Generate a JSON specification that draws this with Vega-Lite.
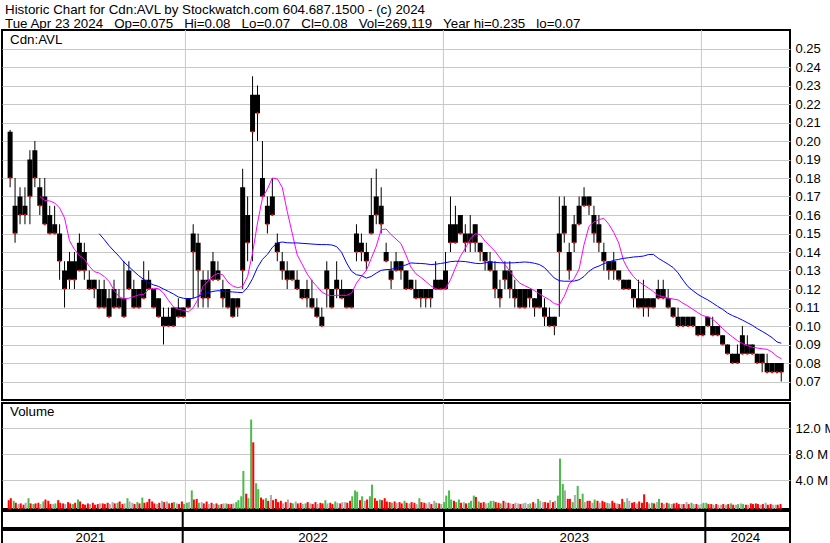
{
"$schema":"https://vega.github.io/schema/vega-lite/v6.json",
"padding":{"left":1,"top":3,"right":0,"bottom":0},
"background":"white",
"spacing":-1,
"title":{"text":["Historic Chart for Cdn:AVL by Stockwatch.com 604.687.1500 - (c) 2024","Tue Apr 23 2024\u00a0\u00a0 Op=0.075\u00a0\u00a0 Hi=0.08\u00a0\u00a0 Lo=0.07\u00a0\u00a0 Cl=0.08\u00a0\u00a0 Vol=269,119\u00a0\u00a0 Year hi=0.235\u00a0\u00a0 lo=0.07"],"anchor":"start","fontSize":13.33,"lineHeight":13.5,"offset":-1.5,"font":"Liberation Sans","fontWeight":"normal","color":"#000","dx":4},
"config":{
"view":{"stroke":"#000","strokeWidth":2},
"font":"Liberation Sans",
"axis":{"labelFont":"Liberation Sans","labelFontSize":13,"labelColor":"#000","gridColor":"#c8c8c8","gridWidth":1,"domain":false,"ticks":false,"title":null,"minExtent":0,"labelOverlap":false},
"title":{"font":"Liberation Sans","fontWeight":"normal","color":"#000"}
},
"datasets":{
"p":[
{"d":"2021-04-28","h":0.206,"l":0.175,"t":0.205,"b":0.18},
{"d":"2021-05-05","h":0.18,"l":0.145,"t":0.165,"b":0.15},
{"d":"2021-05-12","h":0.175,"l":0.155,"t":0.17,"b":0.16},
{"d":"2021-05-19","h":0.175,"l":0.155,"t":0.165,"b":0.16},
{"d":"2021-05-26","h":0.195,"l":0.155,"t":0.19,"b":0.17},
{"d":"2021-06-02","h":0.2,"l":0.175,"t":0.195,"b":0.18},
{"d":"2021-06-09","h":0.18,"l":0.16,"t":0.175,"b":0.165,"m":0.170},
{"d":"2021-06-16","h":0.18,"l":0.155,"t":0.17,"b":0.155,"m":0.1679},
{"d":"2021-06-23","h":0.165,"l":0.15,"t":0.16,"b":0.15,"m":0.1676},
{"d":"2021-06-30","h":0.165,"l":0.15,"t":0.155,"b":0.15,"m":0.1665},
{"d":"2021-07-07","h":0.155,"l":0.125,"t":0.15,"b":0.135,"m":0.1638},
{"d":"2021-07-14","h":0.135,"l":0.11,"t":0.13,"b":0.12,"m":0.1584},
{"d":"2021-07-21","h":0.14,"l":0.12,"t":0.135,"b":0.125,"m":0.1461},
{"d":"2021-07-28","h":0.14,"l":0.12,"t":0.135,"b":0.125,"m":0.1414},
{"d":"2021-08-04","h":0.15,"l":0.13,"t":0.145,"b":0.13,"m":0.1382},
{"d":"2021-08-11","h":0.145,"l":0.125,"t":0.14,"b":0.13,"m":0.136},
{"d":"2021-08-18","h":0.13,"l":0.12,"t":0.125,"b":0.12,"m":0.1323},
{"d":"2021-08-25","h":0.125,"l":0.115,"t":0.125,"b":0.12,"m":0.1294},
{"d":"2021-09-01","h":0.125,"l":0.11,"t":0.12,"b":0.11,"m":0.1286,"n":0.1499},
{"d":"2021-09-08","h":0.125,"l":0.11,"t":0.12,"b":0.11,"m":0.1268,"n":0.1468},
{"d":"2021-09-15","h":0.12,"l":0.105,"t":0.115,"b":0.105,"m":0.1241,"n":0.1434},
{"d":"2021-09-22","h":0.125,"l":0.11,"t":0.12,"b":0.11,"m":0.1193,"n":0.1405},
{"d":"2021-09-29","h":0.12,"l":0.11,"t":0.115,"b":0.11,"m":0.1159,"n":0.1377},
{"d":"2021-10-06","h":0.135,"l":0.105,"t":0.115,"b":0.105,"m":0.1146,"n":0.1346},
{"d":"2021-10-13","h":0.135,"l":0.12,"t":0.13,"b":0.12,"m":0.115,"n":0.1321},
{"d":"2021-10-20","h":0.125,"l":0.11,"t":0.12,"b":0.11,"m":0.1159,"n":0.1296},
{"d":"2021-10-27","h":0.12,"l":0.11,"t":0.12,"b":0.11,"m":0.1168,"n":0.1272},
{"d":"2021-11-03","h":0.135,"l":0.115,"t":0.125,"b":0.115,"m":0.117,"n":0.1252},
{"d":"2021-11-10","h":0.13,"l":0.12,"t":0.125,"b":0.12,"m":0.1198,"n":0.1234},
{"d":"2021-11-17","h":0.12,"l":0.11,"t":0.12,"b":0.11,"m":0.1204,"n":0.1222},
{"d":"2021-11-24","h":0.115,"l":0.105,"t":0.115,"b":0.105,"m":0.1202,"n":0.1214},
{"d":"2021-12-01","h":0.11,"l":0.09,"t":0.105,"b":0.1,"m":0.1178,"n":0.12},
{"d":"2021-12-08","h":0.11,"l":0.1,"t":0.105,"b":0.1,"m":0.1139,"n":0.1187},
{"d":"2021-12-15","h":0.11,"l":0.1,"t":0.11,"b":0.1,"m":0.1104,"n":0.1173},
{"d":"2021-12-22","h":0.115,"l":0.105,"t":0.11,"b":0.105,"m":0.109,"n":0.1157},
{"d":"2021-12-29","h":0.11,"l":0.105,"t":0.11,"b":0.105,"m":0.1085,"n":0.115},
{"d":"2022-01-05","h":0.115,"l":0.11,"t":0.115,"b":0.11,"m":0.1076,"n":0.1146},
{"d":"2022-01-12","h":0.155,"l":0.115,"t":0.15,"b":0.14,"m":0.1099,"n":0.115},
{"d":"2022-01-19","h":0.15,"l":0.11,"t":0.145,"b":0.13,"m":0.1146,"n":0.1159},
{"d":"2022-01-26","h":0.13,"l":0.11,"t":0.125,"b":0.115,"m":0.1214,"n":0.1173},
{"d":"2022-02-02","h":0.13,"l":0.11,"t":0.125,"b":0.115,"m":0.1243,"n":0.118},
{"d":"2022-02-09","h":0.14,"l":0.125,"t":0.135,"b":0.125,"m":0.127,"n":0.1187},
{"d":"2022-02-16","h":0.135,"l":0.125,"t":0.13,"b":0.125,"m":0.1285,"n":0.1191},
{"d":"2022-02-23","h":0.125,"l":0.11,"t":0.12,"b":0.115,"m":0.1276,"n":0.1189},
{"d":"2022-03-02","h":0.12,"l":0.11,"t":0.12,"b":0.11,"m":0.1238,"n":0.1186},
{"d":"2022-03-09","h":0.115,"l":0.105,"t":0.115,"b":0.105,"m":0.1216,"n":0.1184},
{"d":"2022-03-16","h":0.115,"l":0.105,"t":0.115,"b":0.11,"m":0.1207,"n":0.1182},
{"d":"2022-03-23","h":0.185,"l":0.12,"t":0.175,"b":0.13,"m":0.1214,"n":0.118},
{"d":"2022-03-30","h":0.17,"l":0.135,"t":0.16,"b":0.145,"m":0.1268,"n":0.1209},
{"d":"2022-04-06","h":0.235,"l":0.135,"t":0.225,"b":0.205,"m":0.1395,"n":0.1256},
{"d":"2022-04-13","h":0.23,"l":0.2,"t":0.225,"b":0.215,"m":0.1557,"n":0.1317},
{"d":"2022-04-20","h":0.2,"l":0.17,"t":0.18,"b":0.17,"m":0.1692,"n":0.136},
{"d":"2022-04-27","h":0.17,"l":0.15,"t":0.165,"b":0.155,"m":0.1741,"n":0.1387},
{"d":"2022-05-04","h":0.18,"l":0.16,"t":0.17,"b":0.16,"m":0.18,"n":0.1425},
{"d":"2022-05-11","h":0.15,"l":0.135,"t":0.145,"b":0.14,"m":0.1795,"n":0.1449},
{"d":"2022-05-18","h":0.14,"l":0.125,"t":0.135,"b":0.13,"m":0.175,"n":0.1454},
{"d":"2022-05-25","h":0.135,"l":0.12,"t":0.13,"b":0.125,"m":0.162,"n":0.145},
{"d":"2022-06-01","h":0.13,"l":0.125,"t":0.13,"b":0.125,"m":0.1503,"n":0.1449},
{"d":"2022-06-08","h":0.13,"l":0.12,"t":0.125,"b":0.12,"m":0.1386,"n":0.1449},
{"d":"2022-06-15","h":0.12,"l":0.115,"t":0.12,"b":0.115,"m":0.1335,"n":0.1447},
{"d":"2022-06-22","h":0.125,"l":0.11,"t":0.12,"b":0.115,"m":0.1283,"n":0.1445},
{"d":"2022-06-29","h":0.125,"l":0.11,"t":0.115,"b":0.11,"m":0.1245,"n":0.1443},
{"d":"2022-07-06","h":0.115,"l":0.105,"t":0.11,"b":0.105,"m":0.1214,"n":0.1441},
{"d":"2022-07-13","h":0.11,"l":0.1,"t":0.105,"b":0.1,"m":0.1184,"n":0.144},
{"d":"2022-07-20","h":0.135,"l":0.11,"t":0.13,"b":0.12,"m":0.1168,"n":0.144},
{"d":"2022-07-27","h":0.12,"l":0.11,"t":0.12,"b":0.11,"m":0.1164,"n":0.1438},
{"d":"2022-08-03","h":0.135,"l":0.115,"t":0.125,"b":0.12,"m":0.1166,"n":0.1429},
{"d":"2022-08-10","h":0.125,"l":0.115,"t":0.12,"b":0.115,"m":0.1166,"n":0.1398},
{"d":"2022-08-17","h":0.12,"l":0.11,"t":0.12,"b":0.11,"m":0.1166,"n":0.1341},
{"d":"2022-08-24","h":0.12,"l":0.11,"t":0.12,"b":0.11,"m":0.1177,"n":0.1296},
{"d":"2022-08-31","h":0.155,"l":0.135,"t":0.15,"b":0.14,"m":0.1232,"n":0.1277},
{"d":"2022-09-07","h":0.15,"l":0.135,"t":0.145,"b":0.14,"m":0.1268,"n":0.1272},
{"d":"2022-09-14","h":0.145,"l":0.13,"t":0.14,"b":0.135,"m":0.1301,"n":0.1259},
{"d":"2022-09-21","h":0.18,"l":0.15,"t":0.16,"b":0.15,"m":0.1366,"n":0.1268},
{"d":"2022-09-28","h":0.185,"l":0.155,"t":0.17,"b":0.16,"m":0.1431,"n":0.1286},
{"d":"2022-10-05","h":0.175,"l":0.15,"t":0.165,"b":0.155,"m":0.1521,"n":0.1301},
{"d":"2022-10-12","h":0.145,"l":0.135,"t":0.14,"b":0.135,"m":0.1524,"n":0.1305},
{"d":"2022-10-19","h":0.135,"l":0.12,"t":0.13,"b":0.125,"m":0.1494,"n":0.1306},
{"d":"2022-10-26","h":0.14,"l":0.13,"t":0.135,"b":0.13,"m":0.147,"n":0.1314},
{"d":"2022-11-02","h":0.135,"l":0.125,"t":0.135,"b":0.13,"m":0.1445,"n":0.1323},
{"d":"2022-11-09","h":0.13,"l":0.12,"t":0.13,"b":0.12,"m":0.1384,"n":0.133},
{"d":"2022-11-16","h":0.125,"l":0.12,"t":0.125,"b":0.12,"m":0.1319,"n":0.1341},
{"d":"2022-11-23","h":0.125,"l":0.115,"t":0.12,"b":0.115,"m":0.1283,"n":0.1339},
{"d":"2022-11-30","h":0.12,"l":0.11,"t":0.12,"b":0.115,"m":0.1263,"n":0.1338},
{"d":"2022-12-07","h":0.12,"l":0.11,"t":0.12,"b":0.115,"m":0.1241,"n":0.1336},
{"d":"2022-12-14","h":0.12,"l":0.11,"t":0.12,"b":0.115,"m":0.1218,"n":0.1332},
{"d":"2022-12-21","h":0.135,"l":0.12,"t":0.125,"b":0.12,"m":0.12,"n":0.1334},
{"d":"2022-12-28","h":0.125,"l":0.12,"t":0.125,"b":0.12,"m":0.1196,"n":0.1338},
{"d":"2023-01-04","h":0.14,"l":0.12,"t":0.13,"b":0.12,"m":0.1202,"n":0.1342},
{"d":"2023-01-11","h":0.17,"l":0.14,"t":0.155,"b":0.145,"m":0.125,"n":0.1348},
{"d":"2023-01-18","h":0.165,"l":0.145,"t":0.155,"b":0.145,"m":0.1314,"n":0.135},
{"d":"2023-01-25","h":0.16,"l":0.15,"t":0.16,"b":0.15,"m":0.1377,"n":0.135},
{"d":"2023-02-01","h":0.155,"l":0.14,"t":0.15,"b":0.145,"m":0.142,"n":0.1348},
{"d":"2023-02-08","h":0.16,"l":0.14,"t":0.15,"b":0.145,"m":0.147,"n":0.1344},
{"d":"2023-02-15","h":0.155,"l":0.14,"t":0.155,"b":0.145,"m":0.1499,"n":0.1339},
{"d":"2023-02-22","h":0.145,"l":0.135,"t":0.145,"b":0.14,"m":0.1494,"n":0.1337},
{"d":"2023-03-01","h":0.14,"l":0.13,"t":0.14,"b":0.135,"m":0.1458,"n":0.1341},
{"d":"2023-03-08","h":0.14,"l":0.13,"t":0.135,"b":0.13,"m":0.1431,"n":0.1346},
{"d":"2023-03-15","h":0.135,"l":0.115,"t":0.13,"b":0.12,"m":0.1404,"n":0.1344},
{"d":"2023-03-22","h":0.125,"l":0.11,"t":0.12,"b":0.115,"m":0.1368,"n":0.1342},
{"d":"2023-03-29","h":0.135,"l":0.12,"t":0.13,"b":0.125,"m":0.1332,"n":0.1341},
{"d":"2023-04-05","h":0.135,"l":0.115,"t":0.13,"b":0.12,"m":0.1296,"n":0.1341},
{"d":"2023-04-12","h":0.125,"l":0.11,"t":0.12,"b":0.115,"m":0.126,"n":0.1342},
{"d":"2023-04-19","h":0.12,"l":0.11,"t":0.12,"b":0.11,"m":0.1232,"n":0.1344},
{"d":"2023-04-26","h":0.12,"l":0.11,"t":0.12,"b":0.11,"m":0.1218,"n":0.1346},
{"d":"2023-05-03","h":0.12,"l":0.11,"t":0.12,"b":0.115,"m":0.1205,"n":0.1344},
{"d":"2023-05-10","h":0.115,"l":0.105,"t":0.115,"b":0.11,"m":0.1191,"n":0.1339},
{"d":"2023-05-17","h":0.12,"l":0.11,"t":0.12,"b":0.11,"m":0.1173,"n":0.1332},
{"d":"2023-05-24","h":0.115,"l":0.1,"t":0.11,"b":0.105,"m":0.1157,"n":0.1316},
{"d":"2023-05-31","h":0.11,"l":0.1,"t":0.105,"b":0.1,"m":0.1142,"n":0.1287},
{"d":"2023-06-07","h":0.105,"l":0.095,"t":0.105,"b":0.1,"m":0.1121,"n":0.1259},
{"d":"2023-06-14","h":0.17,"l":0.105,"t":0.15,"b":0.14,"m":0.1115,"n":0.1245},
{"d":"2023-06-21","h":0.17,"l":0.145,"t":0.165,"b":0.15,"m":0.116,"n":0.1242},
{"d":"2023-06-28","h":0.145,"l":0.125,"t":0.14,"b":0.13,"m":0.1227,"n":0.1242},
{"d":"2023-07-05","h":0.16,"l":0.14,"t":0.155,"b":0.145,"m":0.1256,"n":0.1243},
{"d":"2023-07-12","h":0.17,"l":0.155,"t":0.165,"b":0.155,"m":0.1308,"n":0.125},
{"d":"2023-07-19","h":0.175,"l":0.165,"t":0.17,"b":0.165,"m":0.144,"n":0.1268},
{"d":"2023-07-26","h":0.17,"l":0.16,"t":0.17,"b":0.165,"m":0.1539,"n":0.1296},
{"d":"2023-08-02","h":0.165,"l":0.145,"t":0.16,"b":0.15,"m":0.1562,"n":0.1314},
{"d":"2023-08-09","h":0.16,"l":0.14,"t":0.155,"b":0.145,"m":0.1575,"n":0.1324},
{"d":"2023-08-16","h":0.145,"l":0.13,"t":0.14,"b":0.135,"m":0.1582,"n":0.1337},
{"d":"2023-08-23","h":0.135,"l":0.125,"t":0.135,"b":0.13,"m":0.155,"n":0.1346},
{"d":"2023-08-30","h":0.14,"l":0.125,"t":0.135,"b":0.13,"m":0.1506,"n":0.1355},
{"d":"2023-09-06","h":0.13,"l":0.125,"t":0.13,"b":0.125,"m":0.1449,"n":0.136},
{"d":"2023-09-13","h":0.125,"l":0.12,"t":0.125,"b":0.12,"m":0.1353,"n":0.1366},
{"d":"2023-09-20","h":0.125,"l":0.12,"t":0.125,"b":0.12,"m":0.1303,"n":0.1369},
{"d":"2023-09-27","h":0.12,"l":0.11,"t":0.12,"b":0.115,"m":0.1267,"n":0.1373},
{"d":"2023-10-04","h":0.125,"l":0.11,"t":0.115,"b":0.11,"m":0.124,"n":0.1375},
{"d":"2023-10-11","h":0.125,"l":0.105,"t":0.115,"b":0.11,"m":0.1223,"n":0.1378},
{"d":"2023-10-18","h":0.115,"l":0.105,"t":0.115,"b":0.11,"m":0.1205,"n":0.1386},
{"d":"2023-10-25","h":0.115,"l":0.11,"t":0.115,"b":0.11,"m":0.1186,"n":0.1387},
{"d":"2023-11-01","h":0.125,"l":0.115,"t":0.12,"b":0.115,"m":0.1164,"n":0.1366},
{"d":"2023-11-08","h":0.125,"l":0.115,"t":0.12,"b":0.115,"m":0.1159,"n":0.135},
{"d":"2023-11-15","h":0.12,"l":0.11,"t":0.115,"b":0.11,"m":0.1151,"n":0.1334},
{"d":"2023-11-22","h":0.11,"l":0.105,"t":0.11,"b":0.105,"m":0.1146,"n":0.1316},
{"d":"2023-11-29","h":0.11,"l":0.1,"t":0.105,"b":0.1,"m":0.1141,"n":0.1287},
{"d":"2023-12-06","h":0.105,"l":0.1,"t":0.105,"b":0.1,"m":0.1123,"n":0.1248},
{"d":"2023-12-13","h":0.105,"l":0.1,"t":0.105,"b":0.1,"m":0.1108,"n":0.1213},
{"d":"2023-12-20","h":0.105,"l":0.1,"t":0.105,"b":0.1,"m":0.109,"n":0.1191},
{"d":"2023-12-27","h":0.1,"l":0.095,"t":0.1,"b":0.095,"m":0.1072,"n":0.1171},
{"d":"2024-01-03","h":0.1,"l":0.095,"t":0.1,"b":0.095,"m":0.1056,"n":0.1155},
{"d":"2024-01-10","h":0.105,"l":0.1,"t":0.105,"b":0.1,"m":0.105,"n":0.1141},
{"d":"2024-01-17","h":0.105,"l":0.095,"t":0.1,"b":0.095,"m":0.1036,"n":0.1124},
{"d":"2024-01-24","h":0.1,"l":0.095,"t":0.1,"b":0.095,"m":0.1013,"n":0.1106},
{"d":"2024-01-31","h":0.095,"l":0.09,"t":0.095,"b":0.09,"m":0.0986,"n":0.109},
{"d":"2024-02-07","h":0.09,"l":0.085,"t":0.09,"b":0.085,"m":0.0962,"n":0.107},
{"d":"2024-02-14","h":0.085,"l":0.08,"t":0.085,"b":0.08,"m":0.0941,"n":0.1056},
{"d":"2024-02-21","h":0.09,"l":0.08,"t":0.085,"b":0.08,"m":0.0921,"n":0.1045},
{"d":"2024-02-28","h":0.1,"l":0.085,"t":0.095,"b":0.085,"m":0.0905,"n":0.1032},
{"d":"2024-03-06","h":0.095,"l":0.085,"t":0.09,"b":0.085,"m":0.0894,"n":0.1018},
{"d":"2024-03-13","h":0.09,"l":0.085,"t":0.09,"b":0.085,"m":0.0885,"n":0.1004},
{"d":"2024-03-20","h":0.085,"l":0.08,"t":0.085,"b":0.08,"m":0.0881,"n":0.0986},
{"d":"2024-03-27","h":0.085,"l":0.075,"t":0.085,"b":0.08,"m":0.0877,"n":0.0971},
{"d":"2024-04-03","h":0.085,"l":0.075,"t":0.08,"b":0.075,"m":0.0874,"n":0.0955},
{"d":"2024-04-10","h":0.08,"l":0.075,"t":0.08,"b":0.075,"m":0.0859,"n":0.0937},
{"d":"2024-04-17","h":0.08,"l":0.075,"t":0.08,"b":0.075,"m":0.0836,"n":0.0914},
{"d":"2024-04-23","h":0.08,"l":0.07,"t":0.08,"b":0.075,"m":0.0823,"n":0.0907}
],
"v":[
{"d":"2021-04-26","v":0.9,"c":"r"},{"d":"2021-04-29","v":1.2,"c":"r"},
{"d":"2021-05-03","v":0.8,"c":"g"},{"d":"2021-05-06","v":0.5,"c":"r"},
{"d":"2021-05-10","v":0.3,"c":"n"},{"d":"2021-05-13","v":0.4,"c":"r"},
{"d":"2021-05-17","v":0.2,"c":"r"},{"d":"2021-05-20","v":0.5,"c":"n"},
{"d":"2021-05-24","v":1.2,"c":"g"},{"d":"2021-05-27","v":0.4,"c":"r"},
{"d":"2021-05-31","v":0.3,"c":"g"},{"d":"2021-06-03","v":0.4,"c":"r"},
{"d":"2021-06-07","v":0.5,"c":"r"},{"d":"2021-06-10","v":0.3,"c":"n"},
{"d":"2021-06-14","v":0.7,"c":"g"},{"d":"2021-06-17","v":1.0,"c":"r"},
{"d":"2021-06-21","v":0.8,"c":"r"},{"d":"2021-06-24","v":0.3,"c":"r"},
{"d":"2021-06-28","v":0.3,"c":"n"},{"d":"2021-07-01","v":0.4,"c":"g"},
{"d":"2021-07-05","v":0.9,"c":"r"},{"d":"2021-07-08","v":0.5,"c":"r"},
{"d":"2021-07-12","v":0.4,"c":"r"},{"d":"2021-07-15","v":0.3,"c":"n"},
{"d":"2021-07-19","v":0.6,"c":"r"},{"d":"2021-07-22","v":0.4,"c":"r"},
{"d":"2021-07-26","v":0.3,"c":"g"},{"d":"2021-07-29","v":0.5,"c":"r"},
{"d":"2021-08-02","v":1.0,"c":"g"},{"d":"2021-08-05","v":0.7,"c":"r"},
{"d":"2021-08-09","v":0.3,"c":"r"},{"d":"2021-08-12","v":0.2,"c":"r"},
{"d":"2021-08-16","v":0.4,"c":"r"},{"d":"2021-08-19","v":0.3,"c":"n"},
{"d":"2021-08-23","v":0.5,"c":"r"},{"d":"2021-08-26","v":0.2,"c":"r"},
{"d":"2021-08-30","v":0.3,"c":"r"},{"d":"2021-09-02","v":0.4,"c":"n"},
{"d":"2021-09-06","v":0.4,"c":"r"},{"d":"2021-09-09","v":0.3,"c":"r"},
{"d":"2021-09-13","v":0.5,"c":"r"},{"d":"2021-09-16","v":0.3,"c":"n"},
{"d":"2021-09-20","v":0.6,"c":"n"},{"d":"2021-09-23","v":0.4,"c":"r"},
{"d":"2021-09-27","v":0.5,"c":"g"},{"d":"2021-09-30","v":0.7,"c":"r"},
{"d":"2021-10-04","v":0.3,"c":"r"},{"d":"2021-10-07","v":0.4,"c":"n"},
{"d":"2021-10-11","v":1.2,"c":"g"},{"d":"2021-10-14","v":0.7,"c":"n"},
{"d":"2021-10-18","v":0.5,"c":"n"},{"d":"2021-10-21","v":0.3,"c":"r"},
{"d":"2021-10-25","v":0.6,"c":"g"},{"d":"2021-10-28","v":0.4,"c":"r"},
{"d":"2021-11-01","v":1.3,"c":"g"},{"d":"2021-11-04","v":0.5,"c":"r"},
{"d":"2021-11-08","v":0.6,"c":"r"},{"d":"2021-11-11","v":1.1,"c":"r"},
{"d":"2021-11-15","v":0.7,"c":"r"},{"d":"2021-11-18","v":0.4,"c":"r"},
{"d":"2021-11-22","v":0.3,"c":"n"},{"d":"2021-11-25","v":0.5,"c":"r"},
{"d":"2021-11-29","v":0.8,"c":"n"},{"d":"2021-12-02","v":0.6,"c":"r"},
{"d":"2021-12-06","v":0.7,"c":"n"},{"d":"2021-12-09","v":0.4,"c":"r"},
{"d":"2021-12-13","v":0.5,"c":"r"},{"d":"2021-12-16","v":0.6,"c":"g"},
{"d":"2021-12-20","v":0.4,"c":"n"},{"d":"2021-12-23","v":0.3,"c":"r"},
{"d":"2021-12-27","v":0.7,"c":"r"},{"d":"2021-12-30","v":0.3,"c":"g"},
{"d":"2022-01-03","v":0.5,"c":"g"},{"d":"2022-01-06","v":0.6,"c":"n"},
{"d":"2022-01-10","v":2.4,"c":"g"},{"d":"2022-01-13","v":1.0,"c":"r"},
{"d":"2022-01-17","v":1.1,"c":"r"},{"d":"2022-01-20","v":0.5,"c":"g"},
{"d":"2022-01-24","v":0.6,"c":"n"},{"d":"2022-01-27","v":0.4,"c":"r"},
{"d":"2022-01-31","v":0.7,"c":"r"},{"d":"2022-02-03","v":0.3,"c":"n"},
{"d":"2022-02-07","v":0.5,"c":"r"},{"d":"2022-02-10","v":0.3,"c":"n"},
{"d":"2022-02-14","v":0.4,"c":"r"},{"d":"2022-02-17","v":0.2,"c":"g"},
{"d":"2022-02-21","v":0.3,"c":"r"},{"d":"2022-02-24","v":0.4,"c":"n"},
{"d":"2022-02-28","v":0.4,"c":"g"},{"d":"2022-03-03","v":0.3,"c":"r"},
{"d":"2022-03-07","v":0.3,"c":"r"},{"d":"2022-03-10","v":0.4,"c":"n"},
{"d":"2022-03-14","v":0.6,"c":"g"},{"d":"2022-03-17","v":0.9,"c":"g"},
{"d":"2022-03-21","v":1.5,"c":"g"},{"d":"2022-03-24","v":5.4,"c":"g"},
{"d":"2022-03-28","v":1.9,"c":"r"},{"d":"2022-03-31","v":1.2,"c":"g"},
{"d":"2022-04-04","v":13.3,"c":"g"},{"d":"2022-04-07","v":9.8,"c":"r"},
{"d":"2022-04-11","v":3.5,"c":"g"},{"d":"2022-04-14","v":2.6,"c":"g"},
{"d":"2022-04-18","v":1.3,"c":"r"},{"d":"2022-04-21","v":1.0,"c":"r"},
{"d":"2022-04-25","v":1.2,"c":"g"},{"d":"2022-04-28","v":0.8,"c":"r"},
{"d":"2022-05-02","v":1.7,"c":"n"},{"d":"2022-05-05","v":0.9,"c":"r"},
{"d":"2022-05-09","v":1.1,"c":"r"},{"d":"2022-05-12","v":0.6,"c":"r"},
{"d":"2022-05-16","v":0.8,"c":"r"},{"d":"2022-05-19","v":0.4,"c":"n"},
{"d":"2022-05-23","v":0.6,"c":"r"},{"d":"2022-05-26","v":1.0,"c":"n"},
{"d":"2022-05-30","v":0.5,"c":"r"},{"d":"2022-06-02","v":0.4,"c":"g"},
{"d":"2022-06-06","v":0.7,"c":"n"},{"d":"2022-06-09","v":0.4,"c":"r"},
{"d":"2022-06-13","v":0.5,"c":"r"},{"d":"2022-06-16","v":0.3,"c":"n"},
{"d":"2022-06-20","v":0.4,"c":"g"},{"d":"2022-06-23","v":0.6,"c":"r"},
{"d":"2022-06-27","v":0.4,"c":"n"},{"d":"2022-06-30","v":0.3,"c":"r"},
{"d":"2022-07-04","v":0.6,"c":"r"},{"d":"2022-07-07","v":0.3,"c":"n"},
{"d":"2022-07-11","v":0.5,"c":"r"},{"d":"2022-07-14","v":0.4,"c":"r"},
{"d":"2022-07-18","v":0.9,"c":"g"},{"d":"2022-07-21","v":0.4,"c":"n"},
{"d":"2022-07-25","v":0.5,"c":"r"},{"d":"2022-07-28","v":0.3,"c":"r"},
{"d":"2022-08-01","v":0.7,"c":"g"},{"d":"2022-08-04","v":0.5,"c":"n"},
{"d":"2022-08-08","v":0.4,"c":"r"},{"d":"2022-08-11","v":0.6,"c":"n"},
{"d":"2022-08-15","v":0.6,"c":"n"},{"d":"2022-08-18","v":0.5,"c":"r"},
{"d":"2022-08-22","v":0.8,"c":"r"},{"d":"2022-08-25","v":1.5,"c":"g"},
{"d":"2022-08-29","v":2.4,"c":"g"},{"d":"2022-09-01","v":2.2,"c":"g"},
{"d":"2022-09-05","v":0.9,"c":"r"},{"d":"2022-09-08","v":1.5,"c":"g"},
{"d":"2022-09-12","v":0.8,"c":"n"},{"d":"2022-09-15","v":1.0,"c":"r"},
{"d":"2022-09-19","v":1.5,"c":"g"},{"d":"2022-09-22","v":3.3,"c":"g"},
{"d":"2022-09-26","v":1.2,"c":"r"},{"d":"2022-09-29","v":0.8,"c":"r"},
{"d":"2022-10-03","v":1.0,"c":"g"},{"d":"2022-10-06","v":0.9,"c":"r"},
{"d":"2022-10-10","v":1.2,"c":"r"},{"d":"2022-10-13","v":0.7,"c":"r"},
{"d":"2022-10-17","v":0.6,"c":"r"},{"d":"2022-10-20","v":0.5,"c":"g"},
{"d":"2022-10-24","v":0.7,"c":"r"},{"d":"2022-10-27","v":0.5,"c":"n"},
{"d":"2022-10-31","v":0.6,"c":"r"},{"d":"2022-11-03","v":0.4,"c":"r"},
{"d":"2022-11-07","v":0.8,"c":"g"},{"d":"2022-11-10","v":0.5,"c":"r"},
{"d":"2022-11-14","v":0.4,"c":"n"},{"d":"2022-11-17","v":0.6,"c":"r"},
{"d":"2022-11-21","v":0.5,"c":"r"},{"d":"2022-11-24","v":0.3,"c":"n"},
{"d":"2022-11-28","v":1.2,"c":"g"},{"d":"2022-12-01","v":0.6,"c":"r"},
{"d":"2022-12-05","v":0.5,"c":"r"},{"d":"2022-12-08","v":0.4,"c":"n"},
{"d":"2022-12-12","v":0.6,"c":"n"},{"d":"2022-12-15","v":0.3,"c":"r"},
{"d":"2022-12-19","v":0.8,"c":"n"},{"d":"2022-12-22","v":0.5,"c":"g"},
{"d":"2022-12-26","v":0.4,"c":"r"},{"d":"2022-12-29","v":0.3,"c":"n"},
{"d":"2023-01-02","v":0.6,"c":"g"},{"d":"2023-01-05","v":1.6,"c":"g"},
{"d":"2023-01-09","v":2.4,"c":"g"},{"d":"2023-01-12","v":1.0,"c":"g"},
{"d":"2023-01-16","v":0.8,"c":"r"},{"d":"2023-01-19","v":0.6,"c":"g"},
{"d":"2023-01-23","v":1.0,"c":"g"},{"d":"2023-01-26","v":0.5,"c":"r"},
{"d":"2023-01-30","v":0.6,"c":"n"},{"d":"2023-02-02","v":0.4,"c":"r"},
{"d":"2023-02-06","v":0.5,"c":"g"},{"d":"2023-02-09","v":0.8,"c":"g"},
{"d":"2023-02-13","v":1.6,"c":"g"},{"d":"2023-02-16","v":1.4,"c":"r"},
{"d":"2023-02-20","v":0.7,"c":"g"},{"d":"2023-02-23","v":0.5,"c":"r"},
{"d":"2023-02-27","v":0.6,"c":"r"},{"d":"2023-03-02","v":0.4,"c":"n"},
{"d":"2023-03-06","v":0.5,"c":"g"},{"d":"2023-03-09","v":0.8,"c":"g"},
{"d":"2023-03-13","v":0.8,"c":"g"},{"d":"2023-03-16","v":0.6,"c":"r"},
{"d":"2023-03-20","v":0.5,"c":"r"},{"d":"2023-03-23","v":0.4,"c":"g"},
{"d":"2023-03-27","v":0.8,"c":"r"},{"d":"2023-03-30","v":0.6,"c":"n"},
{"d":"2023-04-03","v":0.5,"c":"r"},{"d":"2023-04-06","v":0.4,"c":"n"},
{"d":"2023-04-10","v":0.3,"c":"r"},{"d":"2023-04-13","v":0.5,"c":"n"},
{"d":"2023-04-17","v":0.4,"c":"n"},{"d":"2023-04-20","v":0.3,"c":"r"},
{"d":"2023-04-24","v":0.4,"c":"n"},{"d":"2023-04-27","v":0.5,"c":"n"},
{"d":"2023-05-01","v":0.3,"c":"n"},{"d":"2023-05-04","v":0.4,"c":"g"},
{"d":"2023-05-08","v":0.6,"c":"r"},{"d":"2023-05-11","v":0.4,"c":"n"},
{"d":"2023-05-15","v":1.1,"c":"g"},{"d":"2023-05-18","v":0.8,"c":"n"},
{"d":"2023-05-22","v":0.6,"c":"n"},{"d":"2023-05-25","v":0.6,"c":"r"},
{"d":"2023-05-29","v":0.5,"c":"r"},{"d":"2023-06-01","v":0.9,"c":"n"},
{"d":"2023-06-05","v":0.6,"c":"r"},{"d":"2023-06-08","v":0.8,"c":"n"},
{"d":"2023-06-12","v":1.6,"c":"g"},{"d":"2023-06-15","v":7.3,"c":"g"},
{"d":"2023-06-19","v":3.4,"c":"g"},{"d":"2023-06-22","v":2.4,"c":"n"},
{"d":"2023-06-26","v":1.1,"c":"r"},{"d":"2023-06-29","v":1.1,"c":"r"},
{"d":"2023-07-03","v":0.6,"c":"g"},{"d":"2023-07-06","v":1.7,"c":"n"},
{"d":"2023-07-10","v":3.1,"c":"g"},{"d":"2023-07-13","v":1.1,"c":"r"},
{"d":"2023-07-17","v":1.9,"c":"g"},{"d":"2023-07-20","v":0.6,"c":"n"},
{"d":"2023-07-24","v":0.8,"c":"r"},{"d":"2023-07-27","v":0.8,"c":"r"},
{"d":"2023-07-31","v":0.5,"c":"n"},{"d":"2023-08-03","v":1.0,"c":"g"},
{"d":"2023-08-07","v":0.8,"c":"r"},{"d":"2023-08-10","v":0.5,"c":"n"},
{"d":"2023-08-14","v":0.8,"c":"r"},{"d":"2023-08-17","v":0.6,"c":"r"},
{"d":"2023-08-21","v":0.5,"c":"g"},{"d":"2023-08-24","v":0.4,"c":"n"},
{"d":"2023-08-28","v":0.8,"c":"r"},{"d":"2023-08-31","v":0.5,"c":"r"},
{"d":"2023-09-04","v":0.4,"c":"n"},{"d":"2023-09-07","v":0.3,"c":"r"},
{"d":"2023-09-11","v":1.1,"c":"r"},{"d":"2023-09-14","v":0.6,"c":"g"},
{"d":"2023-09-18","v":1.2,"c":"n"},{"d":"2023-09-21","v":0.8,"c":"n"},
{"d":"2023-09-25","v":0.5,"c":"r"},{"d":"2023-09-28","v":0.6,"c":"r"},
{"d":"2023-10-02","v":0.4,"c":"n"},{"d":"2023-10-05","v":0.7,"c":"r"},
{"d":"2023-10-09","v":0.5,"c":"r"},{"d":"2023-10-12","v":1.8,"c":"r"},
{"d":"2023-10-16","v":0.6,"c":"r"},{"d":"2023-10-19","v":0.4,"c":"n"},
{"d":"2023-10-23","v":0.5,"c":"g"},{"d":"2023-10-26","v":0.4,"c":"r"},
{"d":"2023-10-30","v":0.6,"c":"n"},{"d":"2023-11-02","v":1.1,"c":"g"},
{"d":"2023-11-06","v":0.5,"c":"r"},{"d":"2023-11-09","v":0.3,"c":"n"},
{"d":"2023-11-13","v":0.5,"c":"r"},{"d":"2023-11-16","v":0.4,"c":"g"},
{"d":"2023-11-20","v":0.3,"c":"n"},{"d":"2023-11-23","v":0.4,"c":"r"},
{"d":"2023-11-27","v":0.5,"c":"r"},{"d":"2023-11-30","v":0.3,"c":"r"},
{"d":"2023-12-04","v":0.3,"c":"n"},{"d":"2023-12-07","v":0.3,"c":"r"},
{"d":"2023-12-11","v":0.6,"c":"n"},{"d":"2023-12-14","v":0.3,"c":"r"},
{"d":"2023-12-18","v":0.5,"c":"g"},{"d":"2023-12-21","v":0.3,"c":"n"},
{"d":"2023-12-25","v":0.3,"c":"r"},{"d":"2023-12-28","v":0.2,"c":"n"},
{"d":"2024-01-01","v":0.3,"c":"n"},{"d":"2024-01-04","v":0.5,"c":"g"},
{"d":"2024-01-08","v":0.5,"c":"g"},{"d":"2024-01-11","v":0.3,"c":"r"},
{"d":"2024-01-15","v":0.3,"c":"r"},{"d":"2024-01-18","v":0.2,"c":"n"},
{"d":"2024-01-22","v":0.3,"c":"r"},{"d":"2024-01-25","v":0.2,"c":"n"},
{"d":"2024-01-29","v":0.2,"c":"n"},{"d":"2024-02-01","v":0.3,"c":"r"},
{"d":"2024-02-05","v":0.2,"c":"n"},{"d":"2024-02-08","v":0.3,"c":"r"},
{"d":"2024-02-12","v":0.4,"c":"g"},{"d":"2024-02-15","v":0.2,"c":"r"},
{"d":"2024-02-19","v":0.2,"c":"n"},{"d":"2024-02-22","v":0.3,"c":"g"},
{"d":"2024-02-26","v":0.4,"c":"n"},{"d":"2024-02-29","v":0.3,"c":"g"},
{"d":"2024-03-04","v":0.2,"c":"r"},{"d":"2024-03-07","v":0.2,"c":"n"},
{"d":"2024-03-11","v":0.4,"c":"r"},{"d":"2024-03-14","v":0.3,"c":"r"},
{"d":"2024-03-18","v":0.4,"c":"r"},{"d":"2024-03-21","v":0.3,"c":"r"},
{"d":"2024-03-25","v":0.2,"c":"n"},{"d":"2024-03-28","v":0.3,"c":"r"},
{"d":"2024-04-01","v":0.5,"c":"n"},{"d":"2024-04-04","v":0.2,"c":"r"},
{"d":"2024-04-08","v":0.3,"c":"r"},{"d":"2024-04-11","v":0.2,"c":"n"},
{"d":"2024-04-15","v":0.2,"c":"n"},{"d":"2024-04-18","v":0.2,"c":"r"},
{"d":"2024-04-22","v":0.3,"c":"r"}
],
"yr":[{"d":"2022-01-01"},{"d":"2023-01-01"},{"d":"2024-01-01"}],
"lab":[{"m":"2021-08-25","y":"2021"},{"m":"2022-07-02","y":"2022"},{"m":"2023-07-02","y":"2023"},{"m":"2024-02-26","y":"2024"}]
},
"vconcat":[
{
"width":788,"height":370,
"title":{"text":"Cdn:AVL","anchor":"start","offset":-17,"dx":8,"fontSize":13.33,"frame":"group"},
"layer":[
{"data":{"name":"yr"},"mark":{"type":"rule","color":"#c8c8c8","strokeWidth":1},"encoding":{"x":{"field":"d","type":"temporal","scale":{"domain":[{"year":2021,"month":4,"date":23,"hours":14,"utc":true},{"year":2024,"month":4,"date":28,"hours":7,"utc":true}]},"axis":null}}},
{"data":{"name":"p"},"mark":{"type":"rule","color":"#000","strokeWidth":1},"encoding":{"x":{"field":"d","type":"temporal","axis":null},"y":{"field":"l","type":"quantitative","title":null,"scale":{"domain":[0.06,0.26],"nice":false,"zero":false},"axis":{"orient":"right","values":[0.07,0.08,0.09,0.1,0.11,0.12,0.13,0.14,0.15,0.16,0.17,0.18,0.19,0.2,0.21,0.22,0.23,0.24,0.25],"tickCount":40,"format":".2f","grid":true,"labelPadding":5,"labelOverlap":false,"labelBound":false,"title":null}},"y2":{"field":"h"}}},
{"data":{"name":"p"},"mark":{"type":"bar","color":"#000","width":5},"encoding":{"x":{"field":"d","type":"temporal","axis":null},"y":{"field":"b","type":"quantitative","title":null},"y2":{"field":"t"}}},
{"data":{"name":"p"},"mark":{"type":"square","color":"#ff0000","opacity":1,"size":4},"encoding":{"x":{"field":"d","type":"temporal","axis":null},"y":{"field":"b","type":"quantitative","title":null}}},
{"data":{"name":"p"},"mark":{"type":"line","color":"#ff00ff","strokeWidth":1},"encoding":{"x":{"field":"d","type":"temporal","axis":null},"y":{"field":"m","type":"quantitative","title":null}}},
{"data":{"name":"p"},"mark":{"type":"line","color":"#0000ff","strokeWidth":1},"encoding":{"x":{"field":"d","type":"temporal","axis":null},"y":{"field":"n","type":"quantitative","title":null}}}
]
},
{
"spacing":-2,
"vconcat":[
{
"width":788,"height":106,
"title":{"text":"Volume","anchor":"start","offset":-16,"dx":8,"fontSize":13.33,"frame":"group"},
"layer":[
{"data":{"name":"yr"},"mark":{"type":"rule","color":"#c8c8c8","strokeWidth":1},"encoding":{"x":{"field":"d","type":"temporal","scale":{"domain":[{"year":2021,"month":4,"date":23,"hours":14,"utc":true},{"year":2024,"month":4,"date":28,"hours":7,"utc":true}]},"axis":null}}},
{"data":{"name":"v"},"mark":{"type":"bar","width":2},"encoding":{
"x":{"field":"d","type":"temporal","axis":null},
"y":{"field":"v","type":"quantitative","scale":{"domain":[-0.46,15.85],"nice":false,"zero":false},"axis":{"orient":"right","values":[4,8,12],"tickCount":20,"labelExpr":"format(datum.value,'.1f')+' M'","grid":true,"labelPadding":5,"labelOverlap":false,"title":null}},
"y2":{"datum":-0.46},
"color":{"field":"c","type":"nominal","scale":{"domain":["r","g","n"],"range":["#ff0000","#4cbb4c","#aaaaaa"]},"legend":null}
}}
]
},
{
"width":788,"height":17,
"data":{"name":"yr"},
"mark":{"type":"rule","color":"#000","strokeWidth":2},
"encoding":{"x":{"field":"d","type":"temporal","scale":{"domain":[{"year":2021,"month":4,"date":23,"hours":14,"utc":true},{"year":2024,"month":4,"date":28,"hours":7,"utc":true}]},"axis":null}}
},
{
"width":788,"height":15,
"layer":[
{"data":{"name":"yr"},"mark":{"type":"rule","color":"#000","strokeWidth":2},"encoding":{"x":{"field":"d","type":"temporal","scale":{"domain":[{"year":2021,"month":4,"date":23,"hours":14,"utc":true},{"year":2024,"month":4,"date":28,"hours":7,"utc":true}]},"axis":null}}},
{"data":{"name":"lab"},"mark":{"type":"text","fontSize":13.33,"color":"#000","font":"Liberation Sans"},"encoding":{"x":{"field":"m","type":"temporal","axis":null},"text":{"field":"y"}}}
]
}
]
}
]
}
